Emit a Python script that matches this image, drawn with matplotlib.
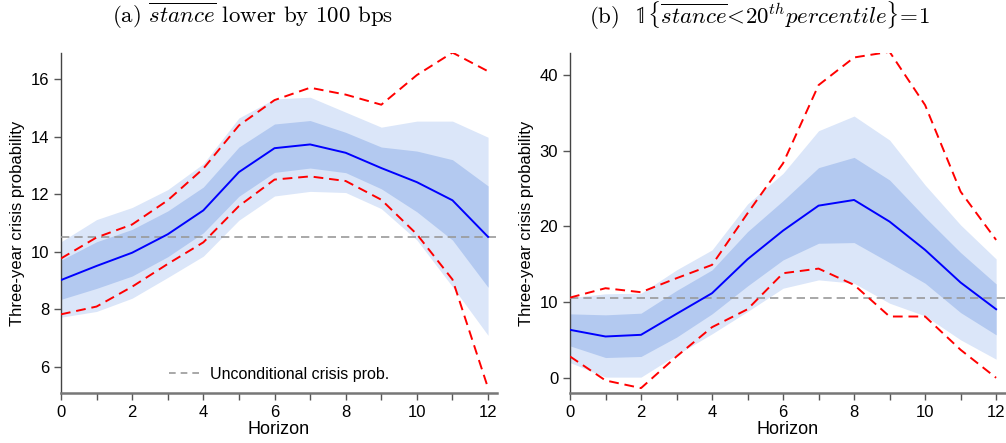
import numpy as np
import matplotlib.pyplot as plt
from matplotlib.lines import Line2D

plt.rcParams['mathtext.fontset'] = 'cm'
plt.rcParams['font.family'] = ['Liberation Sans Narrow', 'Liberation Sans', 'DejaVu Sans']

# ---- data -------------------------------------------------------------
horizon = np.arange(0, 13)
uncond = 10.53

# panel (a)
a_mean = [9.02, 9.51, 9.97, 10.61, 11.44, 12.77, 13.60, 13.73, 13.44, 12.91, 12.42, 11.79, 10.52]
a_red_hi = [9.77, 10.50, 10.95, 11.79, 12.89, 14.39, 15.27, 15.70, 15.46, 15.11, 16.14, 16.92, 16.27]
a_red_lo = [7.83, 8.10, 8.79, 9.58, 10.33, 11.59, 12.51, 12.62, 12.46, 11.81, 10.61, 9.04, 5.27]
a_dark_hi = [9.71, 10.35, 10.78, 11.42, 12.25, 13.64, 14.44, 14.56, 14.15, 13.64, 13.50, 13.20, 12.29]
a_dark_lo = [8.35, 8.73, 9.16, 9.83, 10.66, 11.93, 12.76, 12.91, 12.75, 12.19, 11.39, 10.41, 8.77]
a_light_hi = [10.35, 11.12, 11.54, 12.16, 13.06, 14.65, 15.31, 15.37, 14.85, 14.33, 14.54, 14.54, 13.98]
a_light_lo = [7.73, 7.93, 8.39, 9.11, 9.85, 11.10, 11.94, 12.10, 12.06, 11.50, 10.41, 8.79, 7.10]

# panel (b)
b_mean = [6.34, 5.46, 5.68, 8.45, 11.18, 15.67, 19.45, 22.75, 23.50, 20.64, 16.90, 12.59, 9.06]
b_red_hi = [10.60, 11.84, 11.31, 13.16, 14.92, 21.74, 28.34, 38.68, 42.33, 43.08, 36.04, 24.60, 18.22]
b_red_lo = [2.82, -0.35, -1.36, 2.82, 6.69, 9.06, 13.82, 14.43, 12.28, 8.10, 8.10, 3.70, 0.0]
b_dark_hi = [8.45, 8.32, 8.54, 11.53, 14.26, 19.32, 23.41, 27.77, 29.13, 26.14, 21.21, 16.55, 12.41]
b_dark_lo = [4.22, 2.68, 2.82, 5.37, 8.45, 12.14, 15.58, 17.78, 17.87, 15.23, 12.50, 8.62, 5.68]
b_light_hi = [10.6, 11.1, 11.18, 14.26, 16.90, 22.97, 27.02, 32.65, 34.59, 31.42, 25.48, 20.20, 15.71]
b_light_lo = [2.02, 0.09, 0.09, 3.04, 5.81, 8.76, 11.84, 12.94, 12.50, 9.86, 8.18, 5.02, 2.46]

titles = [r'(a) $\overline{stance}$ lower by 100 bps',
          r'(b)  $\mathbb{1}\{\overline{stance}\!<\!20^{th} percentile\}\!=\!1$']
title_x = [253 / 1006, 760 / 1006]

# ---- figure -----------------------------------------------------------
fig = plt.figure(figsize=(10.06, 4.43), dpi=100)
ax1 = fig.add_axes([0.0606, 0.113, 0.4334, 0.767])
ax2 = fig.add_axes([0.5666, 0.113, 0.4324, 0.767])

panels = [
    (ax1, a_mean, a_red_hi, a_red_lo, a_dark_hi, a_dark_lo, a_light_hi, a_light_lo,
     (5.1, 16.9), np.arange(6, 17, 2)),
    (ax2, b_mean, b_red_hi, b_red_lo, b_dark_hi, b_dark_lo, b_light_hi, b_light_lo,
     (-2.0, 42.9), np.arange(0, 41, 10)),
]

for i, (ax, mean, rhi, rlo, dhi, dlo, lhi, llo, ylim, yt) in enumerate(panels):
    ax.fill_between(horizon, llo, lhi, color='#dbe6f9', lw=0, zorder=1)
    ax.fill_between(horizon, dlo, dhi, color='#b3c9f0', lw=0, zorder=2)
    ax.axhline(uncond, color='#999999', ls=(0, (5, 3)), lw=1.2, zorder=3)
    ax.plot(horizon, mean, color='#0000ff', lw=1.4, zorder=4)
    ax.plot(horizon, rhi, color='#ff0000', ls=(0, (5, 3)), lw=1.4, zorder=5)
    ax.plot(horizon, rlo, color='#ff0000', ls=(0, (5, 3)), lw=1.4, zorder=5)

    ax.set_xlim(0, 12.25)
    ax.set_ylim(*ylim)
    ax.set_xticks(np.arange(0, 13, 2))
    ax.set_xticks(np.arange(1, 13, 2), minor=True)
    ax.set_yticks(yt)
    ax.tick_params(axis='both', which='both', direction='out', length=5,
                   width=1.0, color='#555555', labelsize=12)
    for s in ['top', 'right']:
        ax.spines[s].set_visible(False)
    ax.spines['left'].set_color('#444444')
    ax.spines['left'].set_linewidth(1.0)
    ax.spines['bottom'].set_color('#777777')
    ax.spines['bottom'].set_linewidth(1.8)
    ax.set_xlabel('Horizon', fontsize=13, labelpad=1)
    ax.set_ylabel('Three-year crisis probability', fontsize=12, labelpad=4)
    fig.text(title_x[i], 0.965, titles[i], fontsize=16.5, family='cmr10',
             ha='center', va='center')

h = Line2D([], [], color='#999999', ls=(0, (4, 3)), lw=1.2)
ax1.legend([h], ['Unconditional crisis prob.'], loc='lower center',
           bbox_to_anchor=(0.5, -0.01), frameon=False, fontsize=11.5,
           handlelength=2.0, handletextpad=0.6)

fig.savefig('out.png', dpi=100)
